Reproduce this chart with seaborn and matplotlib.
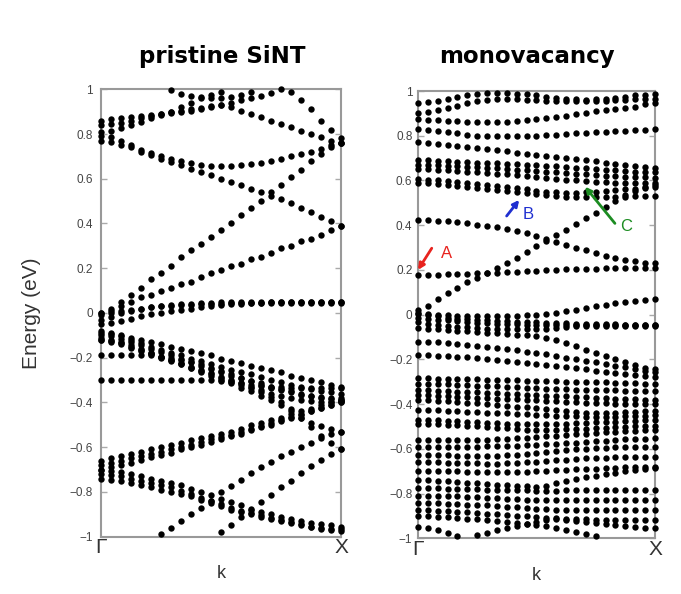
import numpy as np
import pandas as pd
import matplotlib
matplotlib.use('Agg')
import matplotlib.pyplot as plt
import seaborn as sns

OFF = np.nan  # band outside the energy window

k_points = np.linspace(0, 1, 25)   # k grid from Gamma to X
k_labels = ['Γ', 'X']
energy_ticks = [1, 0.8, 0.6, 0.4, 0.2, 0, -0.2, -0.4, -0.6, -0.8, -1]
energy_labels = ['1', '0.8', '0.6', '0.4', '0.2', '0', '\u22120.2', '\u22120.4',
                 '\u22120.6', '\u22120.8', '\u22121']

# pristine SiNT, bands above the gap
pristine_upper = [
    [0.00, 0.01, 0.03, 0.05, 0.07, 0.08, 0.10, 0.11, 0.13, 0.14, 0.16, 0.18, 0.19, 0.21, 0.22, 0.24, 0.25, 0.27, 0.29, 0.30, 0.32, 0.33, 0.35, 0.37, 0.39],
    [0.00, 0.02, 0.05, 0.08, 0.11, 0.15, 0.18, 0.21, 0.25, 0.28, 0.31, 0.34, 0.37, 0.40, 0.44, 0.47, 0.50, 0.54, 0.57, 0.61, 0.64, 0.68, 0.71, 0.74, 0.76],
    [0.77, 0.765, 0.75, 0.74, 0.72, 0.705, 0.69, 0.675, 0.66, 0.645, 0.63, 0.615, 0.60, 0.585, 0.57, 0.555, 0.54, 0.525, 0.51, 0.49, 0.47, 0.45, 0.43, 0.41, 0.39],
    [0.79, 0.785, 0.77, 0.75, 0.73, 0.715, 0.70, 0.69, 0.68, 0.67, 0.66, 0.655, 0.655, 0.655, 0.66, 0.665, 0.67, 0.68, 0.69, 0.70, 0.71, 0.72, 0.735, 0.75, 0.76],
    [0.86, 0.865, 0.87, 0.875, 0.88, 0.885, 0.89, 0.90, 0.905, 0.91, 0.915, 0.925, 0.93, 0.92, 0.905, 0.89, 0.875, 0.86, 0.845, 0.83, 0.815, 0.80, 0.785, 0.77, 0.76],
    [0.84, 0.845, 0.85, 0.86, 0.87, 0.88, 0.89, 0.895, 0.90, 0.905, 0.91, 0.92, 0.93, 0.94, 0.95, 0.96, 0.97, 0.985, 1.0] + [OFF] * 6,
    [0.81, 0.815, 0.825, 0.84, 0.855, 0.87, 0.885, 0.90, 0.92, 0.94, 0.96, 0.975, 0.99] + [OFF] * 12,
    [OFF] * 7 + [0.995, 0.98, 0.97, 0.965, 0.96, 0.96, 0.965, 0.975, 0.99] + [OFF] * 9,
    [OFF] * 19 + [0.99, 0.95, 0.91, 0.86, 0.82, 0.78],
    [-0.03, -0.02, 0.0, 0.01, 0.02, 0.025, 0.03, 0.035, 0.04, 0.04, 0.045, 0.045, 0.05, 0.05, 0.05, 0.05, 0.05, 0.05, 0.05, 0.05, 0.05, 0.05, 0.05, 0.05, 0.05],
    [-0.05, -0.045, -0.035, -0.025, -0.015, -0.005, 0.0, 0.01, 0.015, 0.02, 0.025, 0.03, 0.035, 0.04, 0.04, 0.045, 0.045, 0.05, 0.05, 0.05, 0.05, 0.05, 0.05, 0.05, 0.05],
    [-0.01, 0.0, 0.01, 0.015, 0.02, 0.025, 0.03, 0.03, 0.035, 0.035, 0.04, 0.04, 0.04, 0.045, 0.045, 0.045, 0.045, 0.045, 0.045, 0.045, 0.045, 0.045, 0.045, 0.045, 0.045],
]

# pristine SiNT, bands below the gap
pristine_lower = [
    [-0.08, -0.09, -0.10, -0.11, -0.12, -0.13, -0.14, -0.15, -0.16, -0.17, -0.18, -0.19, -0.205, -0.215, -0.225, -0.235, -0.245, -0.255, -0.265, -0.28, -0.29, -0.30, -0.31, -0.32, -0.33],
    [-0.09, -0.095, -0.105, -0.12, -0.135, -0.15, -0.165, -0.18, -0.19, -0.205, -0.215, -0.23, -0.24, -0.255, -0.265, -0.275, -0.285, -0.30, -0.31, -0.32, -0.33, -0.34, -0.35, -0.355, -0.36],
    [-0.10, -0.105, -0.115, -0.13, -0.145, -0.16, -0.175, -0.19, -0.205, -0.22, -0.235, -0.25, -0.265, -0.28, -0.29, -0.305, -0.315, -0.33, -0.34, -0.35, -0.36, -0.37, -0.38, -0.385, -0.39],
    [-0.12, -0.125, -0.135, -0.15, -0.165, -0.18, -0.195, -0.21, -0.225, -0.24, -0.255, -0.27, -0.285, -0.30, -0.315, -0.33, -0.345, -0.36, -0.37, -0.38, -0.39, -0.395, -0.40, -0.40, -0.40],
    [-0.19, -0.19, -0.19, -0.19, -0.19, -0.19, -0.195, -0.20, -0.21, -0.22, -0.23, -0.245, -0.26, -0.275, -0.29, -0.305, -0.32, -0.335, -0.345, -0.355, -0.365, -0.37, -0.375, -0.38, -0.38],
    [-0.30] * 12 + [-0.305, -0.31, -0.315, -0.32, -0.325, -0.33, -0.33, -0.335, -0.335, -0.335, -0.335, -0.335, -0.335],
    [-0.11, -0.12, -0.13, -0.145, -0.16, -0.18, -0.195, -0.21, -0.23, -0.245, -0.265, -0.28, -0.30, -0.315, -0.335, -0.35, -0.37, -0.39, -0.41, -0.44, -0.47, -0.49, -0.505, -0.52, -0.53],
    [-0.12, -0.13, -0.14, -0.155, -0.17, -0.185, -0.20, -0.215, -0.23, -0.245, -0.26, -0.275, -0.29, -0.305, -0.32, -0.335, -0.355, -0.375, -0.40, -0.43, -0.47, -0.51, -0.55, -0.58, -0.61],
    [-0.66, -0.65, -0.64, -0.63, -0.62, -0.61, -0.60, -0.59, -0.58, -0.57, -0.56, -0.55, -0.54, -0.53, -0.52, -0.50, -0.49, -0.48, -0.47, -0.45, -0.44, -0.43, -0.41, -0.40, -0.39],
    [-0.68, -0.67, -0.66, -0.65, -0.64, -0.63, -0.62, -0.61, -0.60, -0.59, -0.575, -0.565, -0.555, -0.545, -0.53, -0.52, -0.505, -0.49, -0.48, -0.465, -0.45, -0.44, -0.425, -0.41, -0.395],
    [-0.70, -0.69, -0.68, -0.67, -0.655, -0.645, -0.635, -0.625, -0.61, -0.60, -0.59, -0.575, -0.565, -0.55, -0.54, -0.525, -0.51, -0.50, -0.485, -0.47, -0.455, -0.44, -0.425, -0.41, -0.40],
    [OFF] * 6 + [-0.99, -0.96, -0.93, -0.90, -0.87, -0.84, -0.80, -0.775, -0.745, -0.715, -0.69, -0.665, -0.64, -0.62, -0.60, -0.58, -0.56, -0.54, -0.53],
    [OFF] * 12 + [-0.98, -0.95, -0.91, -0.88, -0.845, -0.815, -0.78, -0.75, -0.715, -0.685, -0.655, -0.63, -0.61],
    [-0.70, -0.705, -0.71, -0.72, -0.73, -0.74, -0.75, -0.76, -0.77, -0.785, -0.80, -0.815, -0.83, -0.845, -0.86, -0.875, -0.89, -0.90, -0.91, -0.92, -0.93, -0.94, -0.945, -0.95, -0.955],
    [-0.72, -0.725, -0.73, -0.74, -0.75, -0.76, -0.77, -0.78, -0.795, -0.81, -0.825, -0.84, -0.855, -0.87, -0.885, -0.895, -0.905, -0.915, -0.925, -0.935, -0.945, -0.955, -0.965, -0.97, -0.975],
    [-0.74, -0.745, -0.75, -0.76, -0.77, -0.78, -0.79, -0.80, -0.81, -0.82, -0.835, -0.85, -0.865, -0.88, -0.89, -0.90, -0.91, -0.92, -0.93, -0.94, -0.95, -0.955, -0.96, -0.965, -0.965],
]

# monovacancy, bands above the gap
vacancy_upper = [
    [0.945, 0.95, 0.955, 0.965, 0.975, 0.98, 0.985, 0.99, 0.99, 0.99, 0.985, 0.985, 0.98, 0.975, 0.97, 0.965, 0.965, 0.96, 0.965, 0.965, 0.97, 0.975, 0.98, 0.98, 0.985],
    [0.90, 0.905, 0.915, 0.925, 0.935, 0.945, 0.955, 0.96, 0.965, 0.965, 0.965, 0.96, 0.96, 0.955, 0.955, 0.955, 0.955, 0.955, 0.955, 0.955, 0.96, 0.96, 0.965, 0.965, 0.965],
    [0.875, 0.872, 0.87, 0.868, 0.865, 0.862, 0.86, 0.86, 0.86, 0.862, 0.865, 0.87, 0.875, 0.88, 0.885, 0.89, 0.895, 0.90, 0.91, 0.915, 0.92, 0.925, 0.93, 0.94, 0.945],
    [0.83, 0.825, 0.82, 0.815, 0.81, 0.805, 0.80, 0.80, 0.797, 0.797, 0.797, 0.80, 0.80, 0.802, 0.805, 0.808, 0.81, 0.813, 0.815, 0.818, 0.82, 0.822, 0.825, 0.826, 0.828],
    [0.77, 0.768, 0.765, 0.76, 0.755, 0.75, 0.745, 0.74, 0.735, 0.73, 0.725, 0.72, 0.715, 0.71, 0.705, 0.70, 0.695, 0.69, 0.685, 0.68, 0.675, 0.67, 0.665, 0.66, 0.655],
    [0.69, 0.69, 0.688, 0.686, 0.684, 0.682, 0.68, 0.678, 0.676, 0.674, 0.672, 0.67, 0.668, 0.666, 0.664, 0.66, 0.657, 0.654, 0.651, 0.648, 0.645, 0.642, 0.64, 0.638, 0.636],
    [0.67, 0.67, 0.668, 0.666, 0.664, 0.662, 0.66, 0.657, 0.654, 0.651, 0.648, 0.645, 0.642, 0.639, 0.636, 0.633, 0.63, 0.627, 0.624, 0.621, 0.619, 0.617, 0.615, 0.614, 0.613],
    [0.65, 0.65, 0.648, 0.645, 0.642, 0.639, 0.636, 0.633, 0.63, 0.627, 0.623, 0.619, 0.615, 0.611, 0.607, 0.603, 0.60, 0.597, 0.594, 0.592, 0.59, 0.589, 0.588, 0.588, 0.588],
    [0.605, 0.603, 0.60, 0.596, 0.592, 0.588, 0.584, 0.58, 0.575, 0.57, 0.565, 0.56, 0.555, 0.55, 0.547, 0.545, 0.545, 0.547, 0.55, 0.553, 0.556, 0.56, 0.563, 0.566, 0.57],
    [0.59, 0.588, 0.585, 0.581, 0.577, 0.572, 0.567, 0.562, 0.557, 0.552, 0.547, 0.542, 0.538, 0.534, 0.53, 0.527, 0.525, 0.525, 0.525, 0.526, 0.527, 0.528, 0.529, 0.53, 0.53],
    [0.02, 0.04, 0.07, 0.095, 0.12, 0.145, 0.165, 0.185, 0.21, 0.23, 0.255, 0.28, 0.305, 0.33, 0.355, 0.38, 0.405, 0.43, 0.455, 0.48, 0.51, 0.535, 0.555, 0.57, 0.58],
    [0.423, 0.422, 0.42, 0.417, 0.413, 0.408, 0.403, 0.397, 0.39, 0.382, 0.373, 0.363, 0.352, 0.34, 0.327, 0.313, 0.30, 0.287, 0.274, 0.262, 0.252, 0.245, 0.238, 0.233, 0.23],
    [0.177, 0.178, 0.179, 0.18, 0.181, 0.182, 0.184, 0.186, 0.188, 0.19, 0.192, 0.194, 0.196, 0.198, 0.20, 0.202, 0.203, 0.205, 0.206, 0.207, 0.208, 0.209, 0.21, 0.21, 0.21],
    [0.005, 0.003, 0.0, -0.002, -0.004, -0.005, -0.006, -0.006, -0.006, -0.005, -0.004, -0.003, -0.002, 0.002, 0.008, 0.015, 0.022, 0.03, 0.037, 0.044, 0.05, 0.056, 0.061, 0.066, 0.07],
]

# monovacancy, bands below the gap
vacancy_lower = [
    [0.006, 0.0, -0.008, -0.014, -0.018, -0.021, -0.024, -0.026, -0.028, -0.03, -0.032, -0.034, -0.035, -0.036, -0.038, -0.039, -0.04, -0.041, -0.042, -0.043, -0.044, -0.045, -0.045, -0.045, -0.045],
    [-0.015, -0.018, -0.022, -0.026, -0.03, -0.033, -0.036, -0.038, -0.04, -0.042, -0.044, -0.045, -0.046, -0.047, -0.047, -0.047, -0.047, -0.047, -0.047, -0.047, -0.047, -0.046, -0.046, -0.046, -0.046],
    [-0.035, -0.04, -0.045, -0.05, -0.054, -0.057, -0.06, -0.062, -0.064, -0.065, -0.066, -0.066, -0.065, -0.062, -0.058, -0.055, -0.053, -0.051, -0.05, -0.05, -0.05, -0.05, -0.05, -0.05, -0.05],
    [-0.06, -0.062, -0.065, -0.068, -0.071, -0.074, -0.077, -0.08, -0.083, -0.086, -0.089, -0.092, -0.097, -0.105, -0.115, -0.128, -0.142, -0.157, -0.172, -0.186, -0.20, -0.213, -0.225, -0.237, -0.245],
    [-0.121, -0.122, -0.124, -0.127, -0.13, -0.134, -0.138, -0.143, -0.148, -0.154, -0.16, -0.166, -0.172, -0.178, -0.185, -0.192, -0.199, -0.206, -0.213, -0.22, -0.228, -0.236, -0.243, -0.25, -0.258],
    [-0.18, -0.181, -0.183, -0.185, -0.188, -0.191, -0.194, -0.198, -0.202, -0.206, -0.21, -0.215, -0.22, -0.225, -0.23, -0.235, -0.24, -0.245, -0.25, -0.255, -0.26, -0.265, -0.27, -0.275, -0.28],
    [-0.285, -0.285, -0.286, -0.287, -0.288, -0.289, -0.29, -0.291, -0.292, -0.293, -0.294, -0.295, -0.296, -0.297, -0.298, -0.299, -0.30, -0.301, -0.302, -0.303, -0.304, -0.306, -0.307, -0.309, -0.31],
    [-0.31, -0.31, -0.311, -0.312, -0.313, -0.315, -0.317, -0.319, -0.321, -0.323, -0.325, -0.327, -0.329, -0.331, -0.333, -0.334, -0.335, -0.336, -0.337, -0.338, -0.339, -0.34, -0.34, -0.34, -0.34],
    [-0.337, -0.338, -0.34, -0.342, -0.344, -0.346, -0.348, -0.35, -0.352, -0.354, -0.356, -0.358, -0.36, -0.362, -0.364, -0.366, -0.368, -0.37, -0.372, -0.374, -0.376, -0.378, -0.379, -0.38, -0.38],
    [-0.36, -0.361, -0.363, -0.365, -0.367, -0.369, -0.371, -0.373, -0.375, -0.377, -0.379, -0.381, -0.383, -0.385, -0.387, -0.389, -0.391, -0.393, -0.395, -0.397, -0.398, -0.399, -0.40, -0.40, -0.40],
    [-0.382, -0.383, -0.385, -0.388, -0.391, -0.394, -0.397, -0.40, -0.403, -0.407, -0.411, -0.415, -0.419, -0.423, -0.427, -0.431, -0.435, -0.438, -0.44, -0.44, -0.438, -0.436, -0.434, -0.432, -0.43],
    [-0.426, -0.427, -0.428, -0.43, -0.432, -0.434, -0.436, -0.438, -0.44, -0.442, -0.444, -0.446, -0.448, -0.45, -0.452, -0.454, -0.455, -0.456, -0.457, -0.457, -0.456, -0.455, -0.454, -0.452, -0.45],
    [-0.471, -0.472, -0.473, -0.475, -0.477, -0.479, -0.481, -0.483, -0.485, -0.487, -0.488, -0.489, -0.49, -0.49, -0.489, -0.488, -0.486, -0.484, -0.482, -0.48, -0.478, -0.476, -0.474, -0.472, -0.47],
    [-0.49, -0.49, -0.491, -0.493, -0.495, -0.497, -0.50, -0.503, -0.506, -0.509, -0.512, -0.514, -0.515, -0.515, -0.514, -0.513, -0.512, -0.51, -0.508, -0.506, -0.504, -0.502, -0.50, -0.498, -0.496],
    [-0.56, -0.56, -0.56, -0.56, -0.56, -0.56, -0.56, -0.56, -0.558, -0.556, -0.553, -0.55, -0.547, -0.544, -0.541, -0.538, -0.535, -0.532, -0.529, -0.526, -0.524, -0.522, -0.52, -0.518, -0.516],
    [-0.59, -0.59, -0.59, -0.59, -0.59, -0.59, -0.59, -0.589, -0.588, -0.587, -0.586, -0.584, -0.582, -0.58, -0.578, -0.576, -0.573, -0.57, -0.567, -0.564, -0.561, -0.558, -0.556, -0.554, -0.553],
    [-0.627, -0.627, -0.628, -0.629, -0.63, -0.631, -0.632, -0.632, -0.631, -0.629, -0.626, -0.622, -0.618, -0.614, -0.61, -0.606, -0.603, -0.60, -0.598, -0.596, -0.594, -0.593, -0.592, -0.591, -0.59],
    [-0.66, -0.66, -0.661, -0.662, -0.663, -0.664, -0.665, -0.666, -0.666, -0.665, -0.663, -0.66, -0.657, -0.654, -0.651, -0.648, -0.645, -0.643, -0.641, -0.639, -0.638, -0.637, -0.636, -0.635, -0.635],
    [-0.70, -0.70, -0.70, -0.70, -0.701, -0.702, -0.703, -0.704, -0.705, -0.705, -0.704, -0.702, -0.70, -0.698, -0.696, -0.694, -0.692, -0.69, -0.688, -0.686, -0.684, -0.683, -0.682, -0.681, -0.68],
    [-0.74, -0.741, -0.743, -0.745, -0.748, -0.751, -0.754, -0.757, -0.76, -0.763, -0.766, -0.768, -0.769, -0.765, -0.755, -0.745, -0.735, -0.727, -0.72, -0.713, -0.706, -0.70, -0.695, -0.69, -0.686],
    [-0.776, -0.776, -0.777, -0.778, -0.779, -0.78, -0.781, -0.782, -0.783, -0.784, -0.785, -0.786, -0.787, -0.787, -0.787, -0.786, -0.786, -0.785, -0.785, -0.785, -0.784, -0.784, -0.784, -0.784, -0.784],
    [-0.81, -0.81, -0.811, -0.812, -0.813, -0.815, -0.817, -0.819, -0.821, -0.823, -0.825, -0.827, -0.829, -0.83, -0.831, -0.831, -0.831, -0.83, -0.83, -0.83, -0.829, -0.829, -0.829, -0.829, -0.829],
    [-0.843, -0.843, -0.844, -0.845, -0.847, -0.849, -0.851, -0.853, -0.856, -0.859, -0.862, -0.865, -0.868, -0.87, -0.872, -0.873, -0.874, -0.874, -0.874, -0.874, -0.874, -0.873, -0.873, -0.873, -0.873],
    [-0.873, -0.874, -0.876, -0.878, -0.881, -0.884, -0.887, -0.89, -0.893, -0.896, -0.899, -0.902, -0.905, -0.908, -0.911, -0.913, -0.915, -0.916, -0.917, -0.918, -0.918, -0.918, -0.918, -0.918, -0.918],
    [-0.90, -0.901, -0.903, -0.906, -0.909, -0.912, -0.915, -0.918, -0.922, -0.926, -0.93, -0.935, -0.94, -0.946, -0.953, -0.961, -0.97, -0.98, -0.99] + [OFF] * 6,
    [-0.948, -0.955, -0.965, -0.978, -0.99] + [OFF] * 20,
    [OFF] * 6 + [-0.985, -0.975, -0.965, -0.955, -0.947, -0.938, -0.929, -0.92, -0.915, -0.918, -0.922, -0.927, -0.932, -0.937, -0.942, -0.947, -0.951, -0.954, -0.955],
]


def to_frame(groups):
    rows = []
    for group in groups:
        for band in group:
            assert len(band) == len(k_points), len(band)
            for kk, e in zip(k_points, band):
                rows.append({'k': kk, 'E': e})
    return pd.DataFrame(rows).dropna()


df_pristine = to_frame([pristine_upper, pristine_lower])
df_vacancy = to_frame([vacancy_upper, vacancy_lower])

sns.set_theme(style='white')
plt.rcParams['font.family'] = ['Liberation Sans', 'DejaVu Sans']

fig = plt.figure(figsize=(6.81, 5.94), dpi=100)
ax1 = fig.add_axes([0.1483, 0.0965, 0.3524, 0.7532])
ax2 = fig.add_axes([0.6138, 0.0938, 0.348, 0.753])

for ax, df in [(ax1, df_pristine), (ax2, df_vacancy)]:
    sns.scatterplot(data=df, x='k', y='E', ax=ax, color='black', s=21,
                    linewidth=0, legend=False, clip_on=False, zorder=3)
    ax.set_xlim(0, 1)
    ax.set_ylim(-1, 1)
    ax.set_yticks(energy_ticks)
    ax.set_yticklabels(energy_labels)
    ax.set_xticks([0, 1])
    ax.set_xticklabels(k_labels, fontsize=15, color='#333333')
    ax.tick_params(axis='y', direction='in', length=4, width=1, color='#aaaaaa',
                   labelsize=8.5, labelcolor='#444444', left=True, right=True, pad=6)
    ax.tick_params(axis='x', length=0, pad=1)
    for sp in ax.spines.values():
        sp.set_color('#999999')
        sp.set_linewidth(1.5)
    ax.set_xlabel('k', fontsize=13, color='#333333')
    ax.xaxis.set_label_coords(0.5, -0.064)

ax2.tick_params(axis='y', pad=4)
ax1.set_ylabel('Energy (eV)', fontsize=15, color='#333333')
ax1.yaxis.set_label_coords(-0.25, 0.5)
ax2.set_ylabel('')

fig.text(222 / 681, 1 - 57 / 594, 'pristine SiNT', ha='center', va='center',
         fontsize=16.5, fontweight='bold', family='DejaVu Sans', color='black')
fig.text(527 / 681, 1 - 57 / 594, 'monovacancy', ha='center', va='center',
         fontsize=16.5, fontweight='bold', family='DejaVu Sans', color='black')

# defect-state markers
marks = [('A', '#e8231e', (0.0, 0.20), (0.058, 0.297), (0.121, 0.274)),
         ('B', '#1f2fd0', (0.427, 0.513), (0.374, 0.441), (0.465, 0.45)),
         ('C', '#1c8c22', (0.705, 0.572), (0.831, 0.408), (0.88, 0.393))]
for name, col, head, tail, pos in marks:
    ax2.annotate('', xy=head, xytext=tail, zorder=5,
                 arrowprops=dict(arrowstyle='-|>', color=col, lw=2,
                                 mutation_scale=9, shrinkA=0, shrinkB=0))
    ax2.text(pos[0], pos[1], name, color=col, fontsize=12, ha='center',
             va='center', zorder=5)

fig.savefig('out.png', dpi=100)
